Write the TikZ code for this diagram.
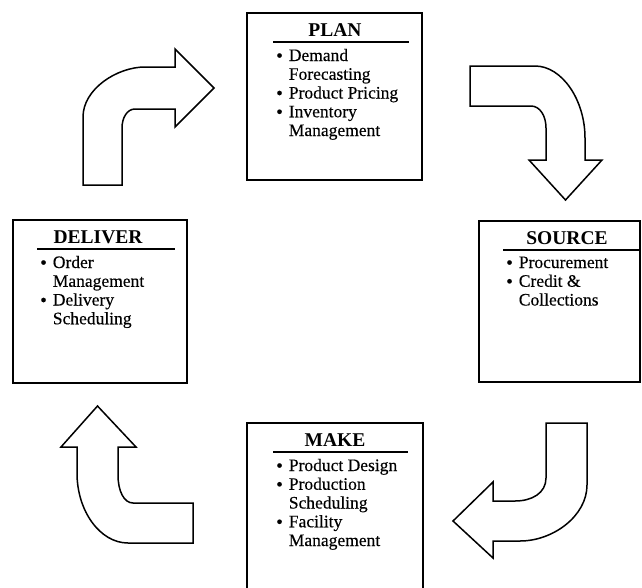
\documentclass[tikz,border=0pt]{standalone}
\usepackage{fontspec}
\setmainfont{Liberation Serif}
\newfontfamily\bodyfont[FakeBold=0.35]{Liberation Serif}
\tikzset{
  box/.style={draw, line width=2.4pt, rectangle, inner sep=0pt},
  ttl/.style={anchor=base, inner sep=0pt, font=\fontsize{19.5}{20}\selectfont\bfseries},
  uline/.style={line width=2.5pt},
  items/.style={anchor=base west, inner sep=0pt, font=\bodyfont\fontsize{17.5}{18.75}\selectfont},
  blockarrow/.style={draw, line width=1.5pt, line join=miter, fill=white},
}
\newcommand{\bul}{\raisebox{-0.8pt}{\fontsize{19}{18}\selectfont\textbullet}}
\begin{document}
\begin{tikzpicture}[x=1pt,y=-1pt]
\clip (0,0) rectangle (642,587);
\fill[white] (0,0) rectangle (642,587);

% PLAN
\node[box, minimum width=175pt, minimum height=167pt] (plan) at (334.5,96.5) {};
\node[ttl] (plant) at (335,36) {PLAN};
\draw[uline] (273,42) -- (409,42);
\node[items] (planl) at (276,61) {\begin{tabular}[t]{@{}l@{\hspace{6pt}}l@{}}\bul & Demand\\ & Forecasting\\ \bul & Product Pricing\\ \bul & Inventory\\ & Management\end{tabular}};

% SOURCE
\node[box, minimum width=161pt, minimum height=161pt] (source) at (559.5,301.5) {};
\node[ttl] (sourcet) at (567,244) {SOURCE};
\draw[uline] (503,250) -- (641,250);
\node[items] (sourcel) at (506,268) {\begin{tabular}[t]{@{}l@{\hspace{6pt}}l@{}}\bul & Procurement\\ \bul & Credit \&\\ & Collections\end{tabular}};

% DELIVER
\node[box, minimum width=174pt, minimum height=163pt] (deliver) at (100,301.5) {};
\node[ttl] (delivert) at (98,243) {DELIVER};
\draw[uline] (37,249) -- (175,249);
\node[items] (deliverl) at (40,268) {\begin{tabular}[t]{@{}l@{\hspace{6pt}}l@{}}\bul & Order\\ & Management\\ \bul & Delivery\\ & Scheduling\end{tabular}};

% MAKE
\node[box, minimum width=176pt, minimum height=177pt] (make) at (335,511.5) {};
\node[ttl] (maket) at (335,446) {MAKE};
\draw[uline] (273,452) -- (408,452);
\node[items] (makel) at (276,471) {\begin{tabular}[t]{@{}l@{\hspace{6pt}}l@{}}\bul & Product Design\\ \bul & Production\\ & Scheduling\\ \bul & Facility\\ & Management\end{tabular}};

% Arrow: DELIVER -> PLAN (top left)
\draw[blockarrow] (83,185) -- (83,117) .. controls (83,89) and (117,67) .. (145,67)
  -- (175,67) -- (175,49) -- (214,88) -- (175,127) -- (175,109) -- (135,109)
  .. controls (127,109) and (122,118) .. (122,128) -- (122,185) -- cycle;

% Arrow: PLAN -> SOURCE (top right)
\draw[blockarrow] (470,66) -- (535,66) .. controls (562,66) and (585,100) .. (585,138)
  -- (585,160) -- (602,160) -- (565.5,200) -- (529,160) -- (546,160) -- (546,128)
  .. controls (546,116) and (540,106) .. (531,106) -- (470,106) -- cycle;

% Arrow: SOURCE -> MAKE (bottom right)
\draw[blockarrow] (546,423) -- (587,423) -- (587,485) .. controls (587,516) and (553,541) .. (520,541)
  -- (493,541) -- (493,558) -- (453,521) -- (493,482) -- (493,501) -- (515,501)
  .. controls (532,501) and (546,493) .. (546,478) -- cycle;

% Arrow: MAKE -> DELIVER (bottom left)
\draw[blockarrow] (193,543) -- (128,543) .. controls (100,543) and (77,511) .. (77,473)
  -- (77,447) -- (61,447) -- (97.5,406) -- (136,447) -- (118,447) -- (118,475)
  .. controls (118,491) and (124,503) .. (133,503) -- (193,503) -- cycle;
\end{tikzpicture}
\end{document}
